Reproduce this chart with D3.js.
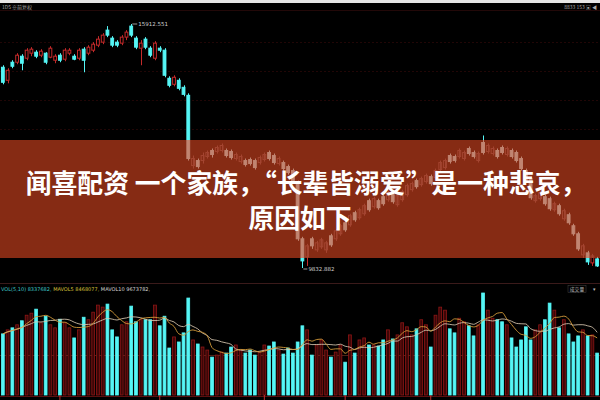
<!DOCTYPE html>
<html><head><meta charset="utf-8">
<script src="https://cdn.jsdelivr.net/npm/d3@7"></script>
<style>html,body{margin:0;padding:0;background:#000;overflow:hidden}svg{display:block}</style>
</head><body><svg id="c" width="600" height="400"></svg>
<script>
// ---- data ----
const opens = [14835,14510,14960,14960,15110,15060,15185,15210,15135,15185,
15085,15010,15135,15035,15185,15110,15060,15285,15185,15260,
15385,15460,15760,15560,15460,15435,15585,15860,15560,15310,
15535,15310,15060,15310,15260,14560,14410,14510,14335,14135,
12385,12510,12510,12610,12760,12735,12760,12760,12735,12560,
12485,12510,12535,12510,12460,12535,12710,12635,12435,12460,
12360,12260,11960,10560,10110,10560,10285,10360,10285,10635,
10560,10685,10960,10910,11210,11085,11185,11510,11360,11510,
11610,11535,11660,11410,11535,11660,11785,12010,11910,11985,
12110,12085,12285,12335,12635,12610,12610,12560,12810,12710,
12510,12960,12735,12685,12760,12835,12660,12760,12710,12560,
12260,12060,11510,11560,11610,11560,11285,11385,11060,11160,
10885,10685,10160,10210,9960,10060];
const highs = [14885,14810,15010,15185,15160,15310,15335,15260,15285,15210,
15360,15160,15185,15310,15310,15160,15310,15335,15385,15460,
15610,15685,15860,15610,15510,15635,15760,15912.551,15610,15510,
15585,15360,15485,15360,15310,14610,14635,14560,14385,14185,
12635,12560,12710,12760,12810,12885,12935,12810,12785,12710,
12660,12560,12585,12560,12635,12710,12760,12685,12610,12510,
12410,12310,12010,10610,10435,10610,10510,10585,10510,10685,
10810,10935,11010,11185,11260,11335,11435,11560,11610,11560,
11660,11760,11710,11685,11785,11935,11985,12060,12110,12185,
12160,12310,12510,12560,12685,12660,12810,12760,12860,12760,
12735,13135,12935,12860,12810,12885,12860,12810,12760,12610,
12310,12110,11685,11760,11660,11610,11485,11435,11310,11210,
10935,10735,10435,10260,10185,10110];
const lows = [14410,14435,14810,14910,14760,15010,15110,15060,15085,14910,
15060,14935,14960,14985,15135,15010,15010,14710,15135,15210,
15335,15410,15585,15335,15335,15385,15510,15585,15285,14885,
15285,15085,15010,15210,14585,14335,14360,14260,14110,12510,
12310,12310,12435,12560,12585,12685,12710,12585,12535,12510,
12435,12360,12385,12285,12410,12485,12510,12410,12385,12260,
12160,11960,10510,9832.882,9885,10310,10235,10310,10210,10360,
10510,10635,10735,10860,10985,11035,11135,11235,11310,11285,
11385,11485,11435,11360,11485,11610,11735,11810,11860,11935,
11885,12035,12235,12285,12435,12460,12560,12510,12635,12560,
12460,12660,12685,12635,12560,12660,12610,12560,12460,12260,
11960,11535,11460,11510,11385,11260,11235,11135,11010,10910,
10635,10260,10085,9910,9885,9860];
const closes = [14460,14760,14860,15135,14935,15260,15285,15110,15235,14960,
15310,15110,15010,15260,15260,15035,15260,15010,15335,15410,
15535,15635,15635,15385,15385,15585,15710,15635,15335,15435,
15335,15135,15435,15260,14635,14385,14585,14310,14160,12560,
12560,12360,12635,12710,12660,12835,12885,12635,12585,12660,
12610,12410,12435,12335,12585,12660,12560,12460,12560,12310,
12210,12010,10560,10010,10385,10385,10460,10535,10460,10410,
10760,10885,10785,11135,11035,11285,11385,11285,11560,11335,
11435,11710,11485,11635,11735,11885,11935,11860,12060,12135,
11935,12260,12460,12510,12485,12510,12760,12710,12685,12610,
12685,12710,12885,12810,12610,12710,12810,12610,12510,12310,
12010,11585,11635,11710,11435,11310,11435,11185,11260,10960,
10685,10310,10385,9985,10135,9885];
// volume, millions
const volumes = [12.1,12.9,13.3,13.9,14.7,15.8,16.2,17.0,14.3,15.6,
13.9,13.3,15.0,14.3,13.3,11.3,12.9,15.4,14.9,16.4,
17.8,17.4,18.0,12.9,11.5,13.9,14.5,17.6,14.5,14.9,
14.9,14.9,17.8,13.7,15.6,9.3,11.5,10.5,12.3,19.2,
10.9,10.1,9.5,8.9,7.5,7.9,8.5,8.3,9.5,9.9,
8.9,8.3,8.9,7.9,8.5,9.9,9.7,10.5,8.9,8.1,
9.3,8.3,10.5,13.7,12.9,7.9,9.9,10.9,8.9,7.5,
8.5,9.9,6.5,11.9,8.3,10.9,11.3,9.9,9.9,9.7,
10.9,12.9,11.1,11.9,14.3,13.5,11.9,13.1,14.9,13.9,
9.5,15.8,17.4,16.8,13.1,12.3,15.2,14.5,13.7,11.7,
13.9,20.2,16.8,15.2,14.9,14.5,13.9,11.3,9.5,10.9,
13.5,10.9,12.9,13.9,14.9,18.2,16.8,13.3,14.9,12.1,
10.5,11.7,12.9,11.7,11.9,8.3];
const gridPrices = [15460,14735,14010,13285,12560,11835,11110,10385];
const volLegend = [["VOL(5,10) 8337682,","#3fc9c9"],["MAVOL5 8468077,","#d8c23a"],["MAVOL10 9673782,","#d8d8d8"]];
const titleLines = ["闻喜配资 一个家族，“长辈皆溺爱”是一种悲哀，","原因如下"];
const highLabel = "15912.551", lowLabel = "9832.882";
const dateTicks = [12,33,55,72,90];

// ---- drawing ----
const W = 600, H = 400;
const svg = d3.select("#c");
const N = opens.length;
const data = d3.range(N).map(i => ({i, o:opens[i], h:highs[i], l:lows[i], c:closes[i], v:volumes[i], up: closes[i] >= opens[i]}));

const x = d3.scaleBand().domain(d3.range(N)).range([0, W]).padding(0.2);
const y = d3.scaleLinear().domain([d3.min(lows), d3.max(highs)]).range([268, 24]);
const yv = d3.scaleLinear().domain([0, d3.max(volumes)]).range([395, 293]);
const cx = i => x(i) + x.bandwidth()/2;

svg.append("rect").attr("width", W).attr("height", H).attr("fill", "#000");
// top strip
svg.append("rect").attr("width", W).attr("height", 3).attr("fill", "#e6e6e6");
svg.append("line").attr("x1",0).attr("x2",W).attr("y1",10.5).attr("y2",10.5).attr("stroke","#220808").attr("stroke-width",1);

// grid
svg.append("g").selectAll("line").data(gridPrices).join("line")
  .attr("x1", 0).attr("x2", W).attr("y1", d => Math.round(y(d))+0.5).attr("y2", d => Math.round(y(d))+0.5)
  .attr("stroke", "#2a0808").attr("stroke-dasharray", "2,2").attr("stroke-width", 0.8);

const CYAN = "#55f5f5", RED = "#c42a2a";
function drawCandles(g, upCol, dnCol, upFill) {
  g.selectAll("line.w").data(data).join("line").attr("class","w")
    .attr("x1", d => Math.round(cx(d.i))+0.5).attr("x2", d => Math.round(cx(d.i))+0.5)
    .attr("y1", d => y(d.h)).attr("y2", d => y(d.l))
    .attr("stroke", d => d.up ? upCol : dnCol).attr("stroke-width", 1);
  g.selectAll("rect.b").data(data).join("rect").attr("class","b")
    .attr("x", d => x(d.i)+0.5).attr("width", x.bandwidth()-1)
    .attr("y", d => y(Math.max(d.o,d.c)))
    .attr("height", d => Math.max(1, Math.abs(y(d.o)-y(d.c))))
    .attr("fill", d => d.up ? upFill : dnCol)
    .attr("stroke", d => d.up ? upCol : dnCol).attr("stroke-width", 1);
}
const cg = svg.append("g");
drawCandles(cg, RED, CYAN, "#000");

// high / low labels
const iH = d3.maxIndex(highs), iL = d3.minIndex(lows);
svg.append("line").attr("x1", cx(iH)+1).attr("x2", cx(iH)+6).attr("y1", y(highs[iH])).attr("y2", y(highs[iH])).attr("stroke","#ddd").attr("stroke-width",0.7);
svg.append("text").attr("x", cx(iH)+7).attr("y", y(highs[iH])+2).text(highLabel)
  .attr("fill","#d0d0d0").attr("font-size",5.5).attr("font-family","DejaVu Sans, sans-serif");
svg.append("line").attr("x1", cx(iL)+1).attr("x2", cx(iL)+5).attr("y1", y(lows[iL])+1).attr("y2", y(lows[iL])+1).attr("stroke","#ddd").attr("stroke-width",0.7);
svg.append("text").attr("x", cx(iL)+6).attr("y", y(lows[iL])+3).text(lowLabel)
  .attr("fill","#d0d0d0").attr("font-size",5.5).attr("font-family","DejaVu Sans, sans-serif");

// top small labels
svg.append("text").attr("x",2).attr("y",8.5).text("1D5   ※前复权").attr("fill","#aaa").attr("font-size",5).attr("font-family","Noto Sans CJK SC");
svg.append("text").attr("x",597).attr("y",8.5).attr("text-anchor","end").text("8833 153 ▣ ◀").attr("fill","#aaa").attr("font-size",5).attr("font-family","Noto Sans CJK SC");

// volume panel
svg.append("line").attr("x1",0).attr("x2",W).attr("y1",283.5).attr("y2",283.5).attr("stroke","#3a1a1a").attr("stroke-width",1);
svg.append("line").attr("x1",0).attr("x2",W).attr("y1",Math.round(yv(8))+0.5).attr("y2",Math.round(yv(8))+0.5).attr("stroke","#7a3a28").attr("stroke-width",0.8).attr("opacity",0.8);
const vl = svg.append("text").attr("x",1).attr("y",291).attr("font-size",5).attr("font-family","DejaVu Sans, sans-serif");
vl.selectAll("tspan").data(volLegend).join("tspan").attr("fill", d => d[1]).text(d => d[0] + "  ");
svg.append("rect").attr("x",568).attr("y",285.5).attr("width",18).attr("height",7).attr("fill","none").attr("stroke","#444").attr("stroke-width",0.5);
svg.append("text").attr("x",577).attr("y",291).attr("text-anchor","middle").text("成交量").attr("fill","#bbb").attr("font-size",4.8).attr("font-family","Noto Sans CJK SC");
svg.append("text").attr("x",594).attr("y",291).attr("text-anchor","middle").text("▾").attr("fill","#bbb").attr("font-size",5);

svg.append("g").selectAll("rect").data(data).join("rect")
  .attr("x", d => x(d.i)+0.5).attr("width", x.bandwidth()-1)
  .attr("y", d => yv(d.v)).attr("height", d => 395 - yv(d.v))
  .attr("fill", d => d.up ? "#3c0707" : CYAN)
  .attr("stroke", d => d.up ? "#8e1616" : CYAN).attr("stroke-width", 0.8);

function ma(n) { return data.map((d,i) => d3.mean(volumes.slice(Math.max(0,i-n+1), i+1))); }
const lineGen = d3.line().x((d,i) => cx(i)).y(d => yv(d)).curve(d3.curveMonotoneX);
svg.append("path").attr("d", lineGen(ma(10))).attr("fill","none").attr("stroke","#d8c8b0").attr("stroke-width",1).attr("opacity",0.85);
svg.append("path").attr("d", lineGen(ma(5))).attr("fill","none").attr("stroke","#d39a3a").attr("stroke-width",1).attr("opacity",0.9);

// bottom date axis
svg.append("line").attr("x1",0).attr("x2",W).attr("y1",396.5).attr("y2",396.5).attr("stroke","#5a1010");
svg.append("g").selectAll("line").data(dateTicks).join("line")
  .attr("x1", d => cx(d)).attr("x2", d => cx(d)).attr("y1",395).attr("y2",400).attr("stroke","#c03030");

// banner overlay
const bTop = 140, bBot = 258;
svg.append("defs").append("clipPath").attr("id","bc").append("rect").attr("x",0).attr("y",bTop).attr("width",W).attr("height",bBot-bTop);
svg.append("rect").attr("x",0).attr("y",bTop).attr("width",W).attr("height",bBot-bTop).attr("fill","#8a2c15").attr("opacity",0.97);
const og = svg.append("g").attr("clip-path","url(#bc)").attr("opacity",0.55);
drawCandles(og, "#b85a48", "#f0c8b8", "none");

const tg = svg.append("g").attr("font-family","Noto Sans CJK SC").attr("font-weight",700).attr("fill","#fff").attr("text-anchor","middle");
tg.append("text").attr("x",306).attr("y",193).attr("font-size",25.8).text(titleLines[0]);
tg.append("text").attr("x",300).attr("y",228).attr("font-size",25.8).text(titleLines[1]);
</script></body></html>
